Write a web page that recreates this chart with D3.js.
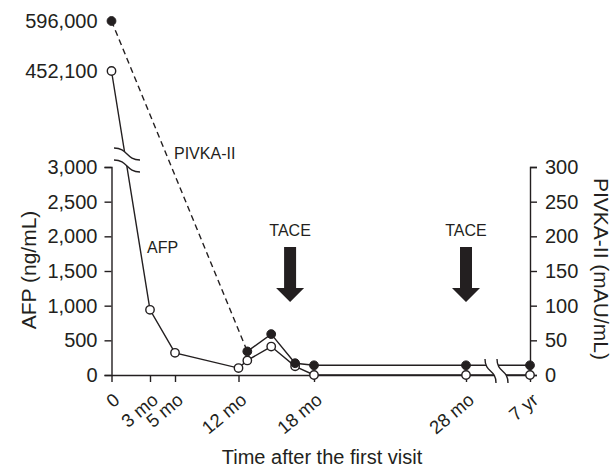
<!DOCTYPE html>
<html>
<head>
<meta charset="utf-8">
<script src="https://cdn.jsdelivr.net/npm/d3@7/dist/d3.min.js"></script>
<style>
  body { margin: 0; background: #fff; }
  svg text { font-family: "Liberation Sans", Arial, Helvetica, sans-serif; fill: #231f20; }
</style>
</head>
<body>
<svg id="chart" width="613" height="468"></svg>
<script>
// data
var months = [0, 3, 5, 12, 12.7, 14.6, 16.5, 18, 28, 84];
var afp = [452100, 940, 320, 100, 210, 410, 125, 0, 0, 0];
var pivkaMonths = [0, 12.7, 14.6, 16.5, 18, 28, 84];
var pivka = [596000, 34, 59, 17, 14, 14, 14];
var tickMonths = [0, 3, 5, 12, 18, 28, 84];
var tickLabels = ["0", "3 mo", "5 mo", "12 mo", "18 mo", "28 mo", "7 yr"];
var afpTicks = [0, 500, 1000, 1500, 2000, 2500, 3000];
var pivkaTicks = [0, 50, 100, 150, 200, 250, 300];
var topTicks = [452100, 596000];
var taceMonths = [16.1, 28];

var ink = '#231f20';
var lw = 1.4;
var svg = d3.select('#chart');

// x is not linear in the original, so map each labelled month
var x = d3.scaleLinear()
    .domain(tickMonths)
    .range([111.5, 150, 175, 238.5, 314, 466, 530]);
var yL = d3.scaleLinear().domain([0, 3000]).range([375, 167]);
var yR = d3.scaleLinear().domain([0, 300]).range([375, 167]);
var yTop = d3.scaleLinear().domain([452100, 596000]).range([71, 21]);

function yAfp(v) { return v > 3000 ? yTop(v) : yL(v); }
function yPivka(v) { return v > 300 ? yTop(v) : yR(v); }

var afpPts = months.map(function(m, i) { return [x(m), yAfp(afp[i])]; });
var pivkaPts = pivkaMonths.map(function(m, i) { return [x(m), yPivka(pivka[i])]; });

// axes
var gx = svg.append('g')
    .attr('transform', 'translate(0,' + yL(0) + ')')
    .call(d3.axisBottom(x).tickValues(tickMonths).tickSize(7).tickSizeOuter(0).tickFormat(''));
gx.selectAll('text').remove();

svg.append('g')
    .attr('transform', 'translate(' + x(0) + ',0)')
    .call(d3.axisLeft(yL).tickValues(afpTicks).tickSize(7).tickPadding(7).tickFormat(d3.format(',')));

svg.append('g')
    .attr('transform', 'translate(' + x(84) + ',0)')
    .call(d3.axisRight(yR).tickValues(pivkaTicks).tickSize(7).tickPadding(8));

var gTop = svg.append('g')
    .attr('transform', 'translate(' + x(0) + ',0)')
    .call(d3.axisLeft(yTop).tickValues(topTicks).tickSize(0).tickPadding(14).tickFormat(d3.format(',')));
gTop.select('.domain').remove();

svg.selectAll('.tick line, .domain').attr('stroke', ink).attr('stroke-width', lw);
svg.selectAll('.tick text').style('font-size', '20px').attr('fill', ink);

// slanted month labels
svg.append('g').selectAll('text')
    .data(tickMonths)
    .enter().append('text')
    .attr('text-anchor', 'end')
    .attr('transform', function(d) { return 'translate(' + (x(d) + 9.5) + ',402) rotate(-40)'; })
    .style('font-size', '18.5px')
    .text(function(d, i) { return tickLabels[i]; });

// lines
var line = d3.line();
svg.append('path')
    .attr('d', line(afpPts))
    .attr('fill', 'none').attr('stroke', ink).attr('stroke-width', lw);
svg.append('path')
    .attr('d', line(pivkaPts.slice(0, 2)))
    .attr('fill', 'none').attr('stroke', ink).attr('stroke-width', lw)
    .attr('stroke-dasharray', '6,4');
svg.append('path')
    .attr('d', line(pivkaPts.slice(1)))
    .attr('fill', 'none').attr('stroke', ink).attr('stroke-width', lw);

// axis breaks: white gap and two wavy strokes
function hWave(x0, y0) {
    return 'M' + x0 + ',' + y0 + ' C' + (x0 + 14) + ',' + y0 + ' ' + (x0 + 12) + ',' + (y0 + 12) + ' ' + (x0 + 26) + ',' + (y0 + 12);
}
function vWave(x0, y0) {
    return 'M' + x0 + ',' + y0 + ' C' + x0 + ',' + (y0 + 14) + ' ' + (x0 + 11) + ',' + (y0 + 10) + ' ' + (x0 + 11) + ',' + (y0 + 24);
}
var b1 = 148, b2 = 160, bx = 114;
svg.append('path')
    .attr('d', 'M' + bx + ',' + b1 + ' C' + (bx + 14) + ',' + b1 + ' ' + (bx + 12) + ',' + (b1 + 12) + ' ' + (bx + 26) + ',' + (b1 + 12) +
        ' L' + (bx + 26) + ',' + (b2 + 12) + ' C' + (bx + 12) + ',' + (b2 + 12) + ' ' + (bx + 14) + ',' + b2 + ' ' + bx + ',' + b2 + 'Z')
    .attr('fill', '#fff');
[b1, b2].forEach(function(y0) {
    svg.append('path').attr('d', hWave(bx, y0)).attr('fill', 'none').attr('stroke', ink).attr('stroke-width', lw);
});

var v1 = 485, v2 = 497, vy = 359;
svg.append('path')
    .attr('d', 'M' + v1 + ',' + vy + ' C' + v1 + ',' + (vy + 14) + ' ' + (v1 + 11) + ',' + (vy + 10) + ' ' + (v1 + 11) + ',' + (vy + 24) +
        ' L' + (v2 + 11) + ',' + (vy + 24) + ' C' + (v2 + 11) + ',' + (vy + 10) + ' ' + v2 + ',' + (vy + 14) + ' ' + v2 + ',' + vy + 'Z')
    .attr('fill', '#fff');
[v1, v2].forEach(function(x0) {
    svg.append('path').attr('d', vWave(x0, vy)).attr('fill', 'none').attr('stroke', ink).attr('stroke-width', lw);
});

// markers: AFP open, PIVKA-II filled
svg.append('g').selectAll('circle')
    .data(afpPts)
    .enter().append('circle')
    .attr('cx', function(d) { return d[0]; })
    .attr('cy', function(d) { return d[1]; })
    .attr('r', 4.2)
    .attr('fill', '#fff').attr('stroke', ink).attr('stroke-width', lw);
svg.append('g').selectAll('circle')
    .data(pivkaPts)
    .enter().append('circle')
    .attr('cx', function(d) { return d[0]; })
    .attr('cy', function(d) { return d[1]; })
    .attr('r', 4.4)
    .attr('fill', ink).attr('stroke', ink).attr('stroke-width', 1);

// TACE arrows
taceMonths.forEach(function(m) {
    var cx = x(m);
    svg.append('path')
        .attr('d', 'M' + (cx - 6) + ',247 L' + (cx + 6) + ',247 L' + (cx + 6) + ',288 L' + (cx + 14) + ',288 L' + cx + ',302 L' + (cx - 14) + ',288 L' + (cx - 6) + ',288Z')
        .attr('fill', ink);
    svg.append('text')
        .attr('x', cx).attr('y', 236)
        .attr('text-anchor', 'middle')
        .style('font-size', '16px')
        .text('TACE');
});

// series labels
svg.append('text').attr('x', 174).attr('y', 159).style('font-size', '16px').text('PIVKA-II');
svg.append('text').attr('x', 147).attr('y', 253).style('font-size', '16px').text('AFP');

// axis titles
svg.append('text')
    .attr('transform', 'translate(36,270) rotate(-90)')
    .attr('text-anchor', 'middle')
    .style('font-size', '21px')
    .text('AFP (ng/mL)');
svg.append('text')
    .attr('transform', 'translate(594,269) rotate(90)')
    .attr('text-anchor', 'middle')
    .style('font-size', '21px')
    .text('PIVKA-II (mAU/mL)');
svg.append('text')
    .attr('x', 322).attr('y', 464)
    .attr('text-anchor', 'middle')
    .style('font-size', '20px')
    .text('Time after the first visit');
</script>
</body>
</html>
